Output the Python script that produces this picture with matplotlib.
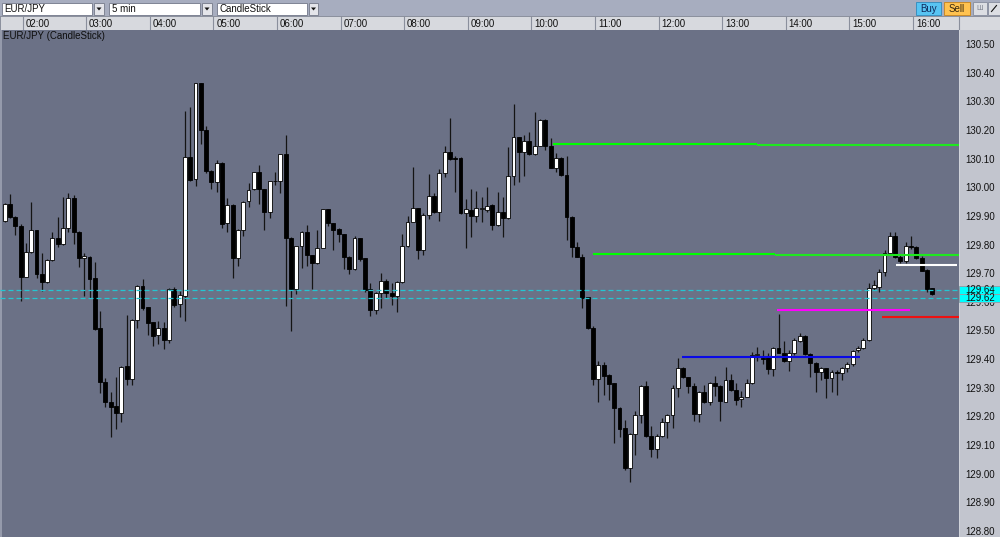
import matplotlib
matplotlib.use("Agg")
import matplotlib.pyplot as plt
from matplotlib.patches import Rectangle, Polygon
from matplotlib.lines import Line2D
from matplotlib.transforms import blended_transform_factory

plt.rcParams['font.family'] = ['Liberation Sans', 'DejaVu Sans']

# ---------------- data (EUR/JPY, 5 min candles, first candle 01:45) ----------------
opens = [129.887, 129.944, 129.898, 129.868, 129.691, 129.777, 129.854, 129.700, 129.674, 129.748,
         129.827, 129.805, 129.861, 129.965, 129.848, 129.755, 129.761, 129.685, 129.511, 129.322,
         129.255, 129.240, 129.214, 129.379, 129.334, 129.540, 129.660, 129.584, 129.532, 129.488,
         129.511, 129.469, 129.650, 129.595, 129.625, 130.110, 130.031, 130.366, 130.203, 130.061,
         130.023, 130.089, 129.877, 129.941, 129.755, 129.854, 129.955, 129.996, 130.058, 129.996,
         129.918, 130.025, 130.025, 130.118, 129.825, 129.650, 129.798, 129.846, 129.767, 129.738,
         129.792, 129.926, 129.877, 129.857, 129.839, 129.761, 129.718, 129.825, 129.755, 129.647,
         129.575, 129.636, 129.677, 129.636, 129.625, 129.674, 129.799, 129.883, 129.932, 129.784,
         129.906, 129.973, 129.918, 130.052, 130.127, 130.106, 130.104, 129.912, 129.925, 129.904,
         129.928, 129.924, 129.941, 129.872, 129.916, 129.895, 130.044, 130.178, 130.128, 130.166,
         130.120, 130.149, 130.238, 130.147, 130.072, 130.107, 130.046, 129.901, 129.796, 129.761,
         129.619, 129.511, 129.333, 129.383, 129.348, 129.319, 129.234, 129.162, 129.025, 129.141,
         129.209, 129.310, 129.135, 129.089, 129.136, 129.183, 129.209, 129.302, 129.374, 129.340,
         129.310, 129.212, 129.290, 129.255, 129.319, 129.310, 129.255, 129.331, 129.296, 129.263,
         129.273, 129.319, 129.418, 129.406, 129.410, 129.368, 129.444, 129.426, 129.397, 129.426,
         129.468, 129.485, 129.420, 129.391, 129.360, 129.371, 129.337, 129.360, 129.354, 129.371,
         129.385, 129.435, 129.444, 129.470, 129.651, 129.657, 129.708, 129.775, 129.835, 129.761,
         129.746, 129.800, 129.796, 129.755, 129.715, 129.651]
highs = [129.947, 129.980, 129.904, 129.875, 129.810, 129.953, 129.856, 129.775, 129.752, 129.846,
         129.898, 129.968, 129.982, 129.976, 129.851, 129.773, 129.763, 129.741, 129.571, 129.339,
         129.290, 129.342, 129.380, 129.557, 129.542, 129.662, 129.683, 129.584, 129.534, 129.536,
         129.532, 129.653, 129.656, 129.641, 130.270, 130.282, 130.369, 130.369, 130.218, 130.063,
         130.098, 130.090, 129.967, 129.944, 129.857, 129.955, 130.019, 130.058, 130.081, 129.999,
         130.025, 130.058, 130.118, 130.186, 129.831, 129.798, 129.852, 129.871, 129.767, 129.854,
         129.926, 129.926, 129.877, 129.860, 129.839, 129.763, 129.834, 129.825, 129.755, 129.668,
         129.639, 129.703, 129.683, 129.668, 129.676, 129.842, 129.904, 130.075, 129.932, 129.912,
         130.048, 129.985, 130.066, 130.148, 130.244, 130.112, 130.110, 129.961, 129.996, 129.991,
         129.968, 130.003, 129.945, 129.988, 129.971, 130.145, 130.294, 130.180, 130.186, 130.198,
         130.265, 130.242, 130.242, 130.174, 130.122, 130.110, 130.113, 129.903, 129.814, 129.771,
         129.622, 129.520, 129.397, 129.395, 129.350, 129.321, 129.236, 129.191, 129.145, 129.223,
         129.313, 129.327, 129.170, 129.141, 129.197, 129.211, 129.313, 129.406, 129.377, 129.342,
         129.319, 129.292, 129.313, 129.325, 129.345, 129.313, 129.375, 129.350, 129.321, 129.292,
         129.334, 129.430, 129.447, 129.435, 129.424, 129.447, 129.561, 129.467, 129.435, 129.476,
         129.496, 129.488, 129.424, 129.393, 129.377, 129.374, 129.366, 129.366, 129.377, 129.395,
         129.436, 129.448, 129.476, 129.668, 129.680, 129.717, 129.785, 129.846, 129.846, 129.767,
         129.814, 129.835, 129.800, 129.764, 129.717, 129.653]
lows = [129.883, 129.895, 129.837, 129.607, 129.689, 129.775, 129.688, 129.641, 129.671, 129.746,
        129.796, 129.803, 129.848, 129.807, 129.726, 129.625, 129.616, 129.505, 129.284, 129.237,
        129.133, 129.159, 129.183, 129.313, 129.313, 129.511, 129.575, 129.488, 129.450, 129.458,
        129.439, 129.461, 129.584, 129.551, 129.537, 130.025, 130.008, 130.156, 130.052, 129.997,
        129.988, 129.860, 129.846, 129.688, 129.730, 129.834, 129.935, 129.994, 129.944, 129.856,
        129.897, 130.011, 129.982, 129.590, 129.501, 129.631, 129.720, 129.730, 129.647, 129.735,
        129.790, 129.869, 129.786, 129.813, 129.718, 129.700, 129.714, 129.747, 129.639, 129.555,
        129.560, 129.581, 129.618, 129.592, 129.569, 129.668, 129.796, 129.881, 129.753, 129.767,
        129.892, 129.912, 129.885, 130.040, 130.098, 129.988, 129.909, 129.792, 129.831, 129.883,
        129.881, 129.918, 129.854, 129.868, 129.831, 129.893, 130.011, 130.023, 130.044, 130.116,
        130.116, 130.147, 130.134, 130.070, 130.058, 130.044, 129.819, 129.761, 129.761, 129.581,
        129.509, 129.313, 129.255, 129.278, 129.261, 129.110, 129.133, 129.017, 128.976, 129.069,
        129.182, 129.133, 129.061, 129.057, 129.133, 129.127, 129.164, 129.273, 129.336, 129.284,
        129.189, 129.183, 129.249, 129.243, 129.275, 129.189, 129.253, 129.294, 129.243, 129.238,
        129.270, 129.317, 129.398, 129.387, 129.352, 129.346, 129.424, 129.395, 129.362, 129.418,
        129.465, 129.418, 129.342, 129.290, 129.331, 129.267, 129.290, 129.278, 129.331, 129.360,
        129.380, 129.430, 129.439, 129.468, 129.645, 129.637, 129.694, 129.771, 129.755, 129.738,
        129.738, 129.787, 129.752, 129.710, 129.639, 129.627]
closes = [129.944, 129.898, 129.868, 129.691, 129.777, 129.854, 129.699, 129.674, 129.748, 129.827,
          129.805, 129.861, 129.965, 129.848, 129.755, 129.762, 129.683, 129.508, 129.322, 129.255,
          129.235, 129.214, 129.377, 129.334, 129.540, 129.660, 129.583, 129.531, 129.484, 129.511,
          129.470, 129.650, 129.592, 129.627, 130.110, 130.028, 130.366, 130.203, 130.060, 130.023,
          130.089, 129.875, 129.941, 129.755, 129.854, 129.953, 129.994, 130.058, 129.996, 129.918,
          130.025, 130.027, 130.118, 129.825, 129.650, 129.798, 129.846, 129.767, 129.738, 129.792,
          129.926, 129.877, 129.856, 129.839, 129.761, 129.718, 129.825, 129.753, 129.645, 129.575,
          129.636, 129.677, 129.633, 129.625, 129.674, 129.799, 129.883, 129.932, 129.784, 129.906,
          129.973, 129.918, 130.052, 130.127, 130.102, 130.102, 129.912, 129.926, 129.904, 129.930,
          129.930, 129.939, 129.872, 129.916, 129.895, 130.044, 130.178, 130.128, 130.166, 130.120,
          130.149, 130.238, 130.147, 130.072, 130.107, 130.046, 129.901, 129.796, 129.761, 129.616,
          129.511, 129.333, 129.383, 129.345, 129.317, 129.232, 129.159, 129.025, 129.141, 129.209,
          129.310, 129.135, 129.089, 129.136, 129.183, 129.209, 129.302, 129.374, 129.340, 129.310,
          129.212, 129.290, 129.255, 129.319, 129.310, 129.257, 129.331, 129.296, 129.261, 129.273,
          129.321, 129.418, 129.420, 129.403, 129.368, 129.444, 129.426, 129.397, 129.426, 129.470,
          129.485, 129.420, 129.391, 129.360, 129.371, 129.337, 129.360, 129.354, 129.371, 129.385,
          129.432, 129.444, 129.470, 129.653, 129.661, 129.708, 129.775, 129.835, 129.761, 129.746,
          129.800, 129.794, 129.755, 129.712, 129.647, 129.630]

hour_labels = ["02:00", "03:00", "04:00", "05:00", "06:00", "07:00", "08:00", "09:00",
               "10:00", "11:00", "12:00", "13:00", "14:00", "15:00", "16:00"]
hour_candle = [3, 15, 27, 39, 51, 63, 75, 87, 99, 111, 123, 135, 147, 159, 171]

price_ticks = [130.50, 130.40, 130.30, 130.20, 130.10, 130.00, 129.90, 129.80, 129.70,
               129.60, 129.50, 129.40, 129.30, 129.20, 129.10, 129.00, 128.90, 128.80]

bid_price = 129.644
ask_price = 129.617
bid_label = "129.64"
ask_label = "129.62"

# drawn level lines: start candle, end candle, price
level_start = [103.5, 141.9, 111.0, 145.3, 127.8, 145.8, 165.5, 168.2]
level_end   = [141.9, 182.0, 145.3, 182.0, 161.4, 170.9, 182.0, 179.6]
level_price = [130.155, 130.152, 129.770, 129.766, 129.412, 129.575, 129.552, 129.731]
level_color = ['#00ff00', '#1ee81e', '#00ff00', '#1ee81e', '#0a0ae6', '#ff00ff', '#ee1111', '#ffffff']

# ---------------- layout ----------------
W, H = 1000, 537
fig = plt.figure(figsize=(W / 100, H / 100), dpi=100)
fig.patch.set_facecolor('#a7adbf')

STEP = 5.3          # pixels per candle
X0 = 4.7            # pixel of first candle
BODY_W = 0.72       # candle body width (candle units)

def fx(px):
    return px / W

def fy(py):
    return 1 - py / H

def prect(x0, y0, x1, y1, **kw):
    r = Rectangle((fx(x0), fy(y1)), (x1 - x0) / W, (y1 - y0) / H,
                  transform=fig.transFigure, **kw)
    fig.patches.append(r)
    return r

def ptext(x, y, s, **kw):
    return fig.text(fx(x), fy(y), s, **kw)

def pline(xs, ys, **kw):
    l = Line2D([fx(v) for v in xs], [fy(v) for v in ys], transform=fig.transFigure, **kw)
    fig.lines.append(l)

# toolbar combo boxes
for (bx0, bx1, btn0, btn1, label) in [(2, 92, 94, 104, "EUR/JPY"),
                                       (109, 200, 202, 212, "5 min"),
                                       (217, 307, 309, 318, "CandleStick")]:
    prect(bx0, 2.5, bx1, 14.5, facecolor='white', edgecolor='#7f8494', lw=0.7)
    prect(btn0, 2.5, btn1, 14.5, facecolor='#e4e5ea', edgecolor='#7f8494', lw=0.7)
    cx = (btn0 + btn1) / 2
    tri = Polygon([(fx(cx - 2.5), fy(7.5)), (fx(cx + 2.5), fy(7.5)), (fx(cx), fy(10.5))],
                  closed=True, transform=fig.transFigure, facecolor='#111111', edgecolor='none')
    fig.patches.append(tri)
    ptext(bx0 + 2.5, 8.7, label, fontsize=7, va='center', ha='left', color='#111111')

# Buy / Sell and icon buttons
prect(916, 2, 941, 15, facecolor='#58c4f3', edgecolor='#3a8fc0', lw=0.7)
ptext(928.5, 8.7, "Buy", fontsize=7, va='center', ha='center', color='#10285a')
prect(944, 2, 970, 15, facecolor='#ffc24f', edgecolor='#c98a2a', lw=0.7)
ptext(957, 8.7, "Sell", fontsize=7, va='center', ha='center', color='#3a2a10')
prect(973, 2, 987, 15, facecolor='#dcdee3', edgecolor='#8e94a4', lw=0.7)
ptext(980, 8.7, "\u0428", fontsize=5, va='center', ha='center', color='#7a7f8c')
prect(988, 2, 1000, 15, facecolor='#dcdee3', edgecolor='#8e94a4', lw=0.7)
pline([991.5, 996.5], [11.5, 5.5], color='#111111', lw=0.8)

# time header
ax_t = fig.add_axes([0, fy(30), 1, 14 / H])
ax_t.set_facecolor('#d7d9de')
xl_left = -X0 / STEP
ax_t.set_xlim(xl_left, (W - X0) / STEP)
ax_t.set_ylim(0, 1)
ax_t.set_xticks([]); ax_t.set_yticks([])
for s in ax_t.spines.values():
    s.set_color('#8a8f9c'); s.set_linewidth(0.7)
for lab, hc in zip(hour_labels, hour_candle):
    sep = hc + BODY_W / 2
    ax_t.axvline(sep, color='#8a8f9c', lw=0.8)
    ax_t.text(sep + 0.55, 0.45, lab, fontsize=7, va='center', ha='left', color='#111111')
ax_t.axvline((959 - X0) / STEP, color='#8a8f9c', lw=0.8)

# main chart
ymin = 130.50 - (537 - 45) / 286.5
ymax = 130.50 + (45 - 30) / 286.5
ax = fig.add_axes([0, 0, 959 / W, 507 / H])
ax.set_facecolor('#6b7186')
ax.set_xlim(xl_left, (959 - X0) / STEP)
ax.set_ylim(ymin, ymax)
ax.set_xticks([]); ax.set_yticks([])
for s in ax.spines.values():
    s.set_visible(False)
ax.axvline(xl_left + 0.1, color='#9ea3b3', lw=1.2)

idx = list(range(len(opens)))
ax.vlines(idx, lows, highs, color='#141414', lw=0.9, zorder=2)
bottoms = [min(o, c) for o, c in zip(opens, closes)]
heights = [max(abs(c - o), 0.0015) for o, c in zip(opens, closes)]
fills = ['#ffffff' if c >= o else '#000000' for o, c in zip(opens, closes)]
ax.bar(idx, heights, bottom=bottoms, width=BODY_W, color=fills, edgecolor='#000000',
       linewidth=0.6, zorder=3)

for xs, xe, p, c in zip(level_start, level_end, level_price, level_color):
    ax.plot([xs, xe], [p, p], color=c, lw=1.5, zorder=4, solid_capstyle='butt')

for p in (bid_price, ask_price):
    ax.axhline(p, color='#24c6d2', lw=0.9, dashes=(4.0, 2.4), zorder=4)

ax.text(0.003, 130.5524 - (35.8 - 30) / 286.5, "EUR/JPY (CandleStick)", fontsize=7,
        va='center', ha='left', color='#0e0e0e', transform=blended_transform_factory(ax.transAxes, ax.transData))

# right price panel
ax_r = fig.add_axes([959 / W, 0, 41 / W, 507 / H])
ax_r.set_facecolor('#c2c5ce')
ax_r.set_xlim(0, 1)
ax_r.set_ylim(ymin, ymax)
ax_r.set_xticks([]); ax_r.set_yticks([])
for s in ax_r.spines.values():
    s.set_visible(False)
ax_r.axvline(0.0, color='#d3d6dd', lw=1.2)
for v in price_ticks:
    ax_r.text(0.15, v, f"{v:.2f}", fontsize=7, va='center', ha='left', color='#111111')

box_h = 0.031
for p, lab in ((bid_price, bid_label), (ask_price, ask_label)):
    ax_r.add_patch(Rectangle((0, p - box_h / 2), 1, box_h, facecolor='#00ffff',
                             edgecolor='#8ea3ab', lw=0.7, zorder=5))
    ax_r.text(0.15, p, lab, fontsize=7, va='center', ha='left', color='#111111', zorder=6)

fig.savefig("out.png", dpi=100, facecolor=fig.get_facecolor())
